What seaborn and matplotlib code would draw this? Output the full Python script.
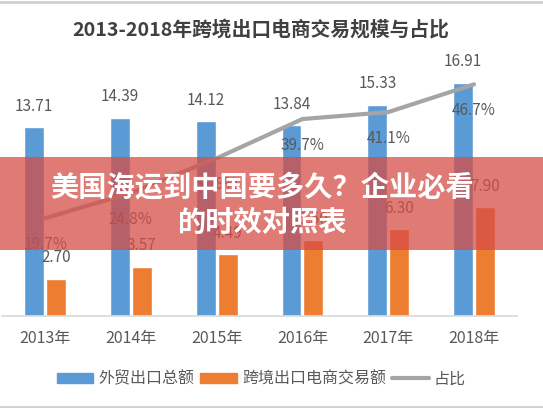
import seaborn as sns
import matplotlib.pyplot as plt
import matplotlib.patches as mpatches
from matplotlib.lines import Line2D
import numpy as np
import pandas as pd

years = ['2013年', '2014年', '2015年', '2016年', '2017年', '2018年']
export_total = [13.71, 14.39, 14.12, 13.84, 15.33, 16.91]
ecommerce = [2.70, 3.57, 4.49, 5.50, 6.30, 7.90]
share = [19.7, 24.8, 31.8, 39.7, 41.1, 46.7]
series_names = ['外贸出口总额', '跨境出口电商交易额', '占比']
title = '2013-2018年跨境出口电商交易规模与占比'
banner = '美国海运到中国要多久？企业必看\n的时效对照表'

sns.set_theme(style='white')
plt.rcParams['font.family'] = ['Noto Sans CJK SC', 'DejaVu Sans']

txt = '#595959'
blue = '#5B9BD5'
orange = '#ED7D31'
gray = '#A5A5A5'

df = pd.DataFrame({
    'year': years * 2,
    'value': export_total + ecommerce,
    'series': [series_names[0]] * 6 + [series_names[1]] * 6,
})

fig = plt.figure(figsize=(5.43, 4.08), dpi=100)
ax = fig.add_axes([0.004, 0.2255, 0.948, 0.608])

sns.barplot(data=df, x='year', y='value', hue='series', palette=[blue, orange],
            saturation=1, width=0.51, gap=0.09, ax=ax, legend=False)
ax.set_ylim(0, 18)
ax.set_xlim(-0.5, 5.5)
for c in ax.containers:
    ax.bar_label(c, fmt='%.2f', padding=9, color=txt, fontsize=11)

ax2 = ax.twinx()
sns.lineplot(x=np.arange(len(years)), y=share, color=gray, linewidth=3, ax=ax2)
ax2.set_ylim(0, 50)
for i, v in enumerate(share):
    ax2.annotate(f'{v:.1f}%', (i, v), xytext=(0, -19), textcoords='offset points',
                 ha='center', va='center', color=txt, fontsize=11)

for a in (ax, ax2):
    a.set_xlabel('')
    a.set_ylabel('')
    a.set_yticks([])
    for s in ['top', 'left', 'right']:
        a.spines[s].set_visible(False)
ax2.spines['bottom'].set_visible(False)
ax.spines['bottom'].set_color('#D9D9D9')
ax.tick_params(axis='x', length=0, pad=10, labelsize=11.5, labelcolor=txt)

fig.text(0.481, 0.926, title, ha='center', va='center', fontsize=14.2,
         fontweight='bold', color='#404040')

handles = [mpatches.Patch(color=blue), mpatches.Patch(color=orange),
           Line2D([], [], color=gray, linewidth=3)]
leg = fig.legend(handles, series_names, loc='center', bbox_to_anchor=(0.481, 0.071),
                 ncol=3, frameon=False, fontsize=11.5, handlelength=2.3,
                 handleheight=0.6, handletextpad=0.3, columnspacing=0.4)
for t in leg.get_texts():
    t.set_color(txt)

# overlay banner
fig.patches.append(mpatches.Rectangle((0, 0.387), 1, 0.228, transform=fig.transFigure,
                                      facecolor=(0.84, 0.30, 0.28), alpha=0.75,
                                      edgecolor='none', zorder=10))
fig.text(0.483, 0.497, banner, ha='center', va='center', fontsize=20.3, fontweight='bold',
         color='white', linespacing=1.3, zorder=11)

fig.add_artist(Line2D([0, 1], [0.996, 0.996], color='#D0D0D0', linewidth=2,
                      transform=fig.transFigure))
fig.add_artist(Line2D([0, 1], [0.002, 0.002], color='#D0D0D0', linewidth=2,
                      transform=fig.transFigure))

fig.savefig('out.png', dpi=100)
